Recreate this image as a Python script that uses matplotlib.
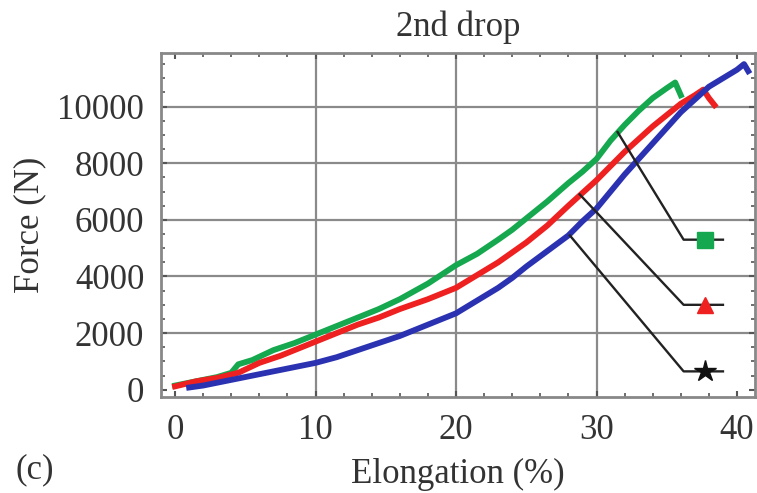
import matplotlib.pyplot as plt
from matplotlib.ticker import MultipleLocator

plt.rcParams["font.family"] = ["Liberation Serif", "DejaVu Serif"]

# elongation (%) / force (N)
green_x = [0, 1.5, 3, 4, 4.5, 5.5, 7, 8.5, 10, 11.5, 13, 14.5, 16, 18, 20, 21.5,
           23, 24, 25, 26.5, 28, 29, 30, 31, 32, 33, 34, 35, 35.6, 36]
green_y = [150, 300, 450, 600, 900, 1050, 1400, 1650, 1950, 2250, 2550, 2850, 3200,
           3750, 4400, 4800, 5300, 5650, 6050, 6650, 7300, 7700, 8150, 8800, 9350,
           9850, 10300, 10650, 10850, 10400]
red_x = [0, 1.5, 3, 4.5, 6, 7.5, 9, 10, 11.5, 13, 14.5, 16, 18, 20, 21.5, 23, 24,
         25, 26.5, 28, 29, 30, 31, 32, 33, 34, 35, 36, 37, 37.6, 38, 38.4]
red_y = [120, 300, 420, 600, 950, 1200, 1500, 1700, 2000, 2300, 2550, 2850, 3200,
         3600, 4050, 4500, 4850, 5200, 5800, 6500, 6950, 7400, 7900, 8400, 8850,
         9300, 9700, 10100, 10400, 10600, 10300, 10050]
blue_x = [1, 2, 3.5, 5, 6.5, 8, 10, 11.5, 13, 14.5, 16, 18, 20, 21.5, 23, 24, 25,
          26.5, 28, 29, 30, 31, 32, 33, 34, 35, 36, 37, 38, 39, 40, 40.5, 40.8]
blue_y = [80, 150, 300, 450, 600, 750, 950, 1150, 1400, 1650, 1900, 2300, 2700,
          3150, 3600, 3950, 4350, 4900, 5450, 5950, 6400, 7000, 7600, 8150, 8700,
          9250, 9800, 10250, 10700, 11000, 11300, 11500, 11250]

# leader lines: start on curve, corner, end (x, y)
leaders = {
    "green": ([31.5, 36.2, 39.0], [9100, 5300, 5300]),
    "red": ([28.8, 36.2, 39.0], [6900, 3000, 3000]),
    "blue": ([28.1, 36.2, 39.0], [5450, 650, 650]),
}
marker_x = 37.7

fig = plt.figure(figsize=(7.57, 4.93), dpi=100)
ax = fig.add_axes([0.2127, 0.195, 0.785, 0.698])

ax.plot(green_x, green_y, color="#16a84e", lw=4.2, zorder=3)
ax.plot(red_x, red_y, color="#ee2020", lw=4.2, zorder=3)
ax.plot(blue_x, blue_y, color="#2b32b2", lw=4.2, zorder=3)

for key, (lx, ly) in leaders.items():
    ax.plot(lx, ly, color="#222222", lw=1.7, zorder=4)
ax.plot(marker_x, leaders["green"][1][2], marker="s", ms=12, color="#16a84e",
        mec="#16a84e", zorder=5)
ax.plot(marker_x, leaders["red"][1][2], marker="^", ms=12, color="#ee2020",
        mec="#ee2020", zorder=5)
ax.plot(marker_x, leaders["blue"][1][2], marker="*", ms=16, color="#111111",
        mec="#111111", zorder=5)

ax.set_xlim(-1, 41.3)
ax.set_ylim(-250, 11900)
ax.xaxis.set_major_locator(MultipleLocator(10))
ax.xaxis.set_minor_locator(MultipleLocator(2))
ax.yaxis.set_major_locator(MultipleLocator(2000))
ax.yaxis.set_minor_locator(MultipleLocator(500))

ax.grid(True, which="major", color="#8a8a8a", lw=1.6)
for line, t in zip(ax.xaxis.get_gridlines(), ax.get_xticks()):
    if t <= 0 or t >= 40:
        line.set_visible(False)
for line, t in zip(ax.yaxis.get_gridlines(), ax.get_yticks()):
    if t <= 0:
        line.set_visible(False)

for s in ax.spines.values():
    s.set_color("#888888")
    s.set_linewidth(2)
ax.tick_params(which="both", direction="in", top=True, right=True,
               color="#555555", labelcolor="#333333", labelsize=25)
ax.tick_params(which="major", length=4, width=1.5, pad=12)
ax.tick_params(which="minor", length=3, width=1.2)

ax.set_title("2nd drop", fontsize=25, color="#333333", pad=12)
ax.set_xlabel("Elongation (%)", fontsize=25, color="#333333", labelpad=8)
ax.set_ylabel("Force (N)", fontsize=25, color="#333333", labelpad=8)
fig.text(0.02, 0.03, "(c)", fontsize=25, color="#333333")

fig.savefig("out.png", dpi=100)
